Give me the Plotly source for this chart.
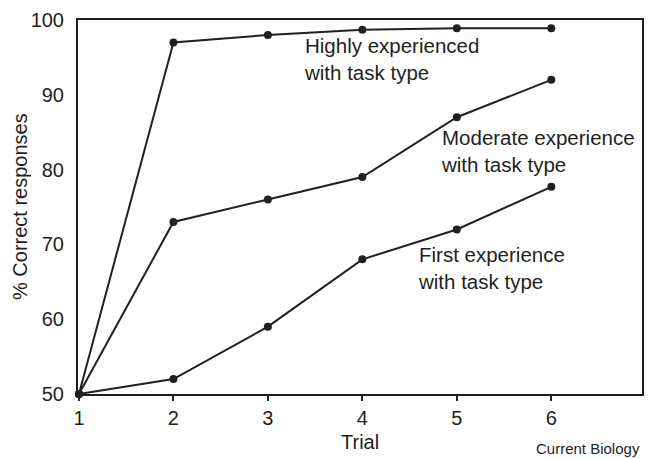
import plotly.graph_objects as go

trials = [1, 2, 3, 4, 5, 6]
highly = [50, 97, 98, 98.7, 98.9, 98.9]
moderate = [50, 73, 76, 79, 87, 92]
first = [50, 52, 59, 68, 72, 77.7]
x_ticks = [1, 2, 3, 4, 5, 6]
y_ticks = [50, 60, 70, 80, 90, 100]

INK = "#231f20"
FONT = "Liberation Sans, Arial, Helvetica, sans-serif"

fig = go.Figure()
for ys in (highly, moderate, first):
    fig.add_trace(go.Scatter(
        x=trials, y=ys, mode="lines+markers",
        line=dict(color=INK, width=2),
        marker=dict(color=INK, size=8),
        showlegend=False, cliponaxis=False,
    ))

labels = [
    ("Highly experienced<br>with task type", 3.36, 94.8),
    ("Moderate experience<br>with task type", 4.81, 82.5),
    ("First experience<br>with task type", 4.57, 66.8),
]
for text, ax, ay in labels:
    fig.add_annotation(x=ax, y=ay, xref="x", yref="y", text=text,
                       showarrow=False, xanchor="left", yanchor="middle",
                       align="left", font=dict(size=20.5, color=INK, family=FONT))

# axis titles and credit
fig.add_annotation(x=0.5, y=0, xref="paper", yref="paper", yshift=-48,
                   text="Trial", showarrow=False, xanchor="center", yanchor="middle",
                   font=dict(size=20, color=INK, family=FONT))
fig.add_annotation(x=0, y=0.5, xref="paper", yref="paper", xshift=-58,
                   text="% Correct responses", showarrow=False, textangle=-90,
                   xanchor="center", yanchor="middle",
                   font=dict(size=20, color=INK, family=FONT))
fig.add_annotation(x=1, y=0, xref="paper", yref="paper", yshift=-54,
                   text="Current Biology", showarrow=False,
                   xanchor="right", yanchor="middle",
                   font=dict(size=15, color=INK, family=FONT))

fig.update_xaxes(range=[0.99, 6.96], tickvals=x_ticks, ticks="outside",
                 ticklen=5, tickwidth=1.5, tickcolor=INK,
                 showline=True, linecolor=INK, linewidth=2, mirror=True,
                 showgrid=False, zeroline=False,
                 tickfont=dict(size=20, color=INK, family=FONT))
fig.update_yaxes(range=[50, 100], tickvals=y_ticks, ticks="outside",
                 ticklen=8, tickcolor="rgba(0,0,0,0)",
                 showline=True, linecolor=INK, linewidth=2, mirror=True,
                 showgrid=False, zeroline=False,
                 tickfont=dict(size=20, color=INK, family=FONT))

fig.update_layout(width=653, height=459,
                  margin=dict(l=78, r=9, t=15, b=65),
                  plot_bgcolor="white", paper_bgcolor="white",
                  hovermode=False)

fig.write_html("out.html",
               config={"displayModeBar": False},
               post_script="document.body.style.margin='0';document.body.style.overflow='hidden';")
